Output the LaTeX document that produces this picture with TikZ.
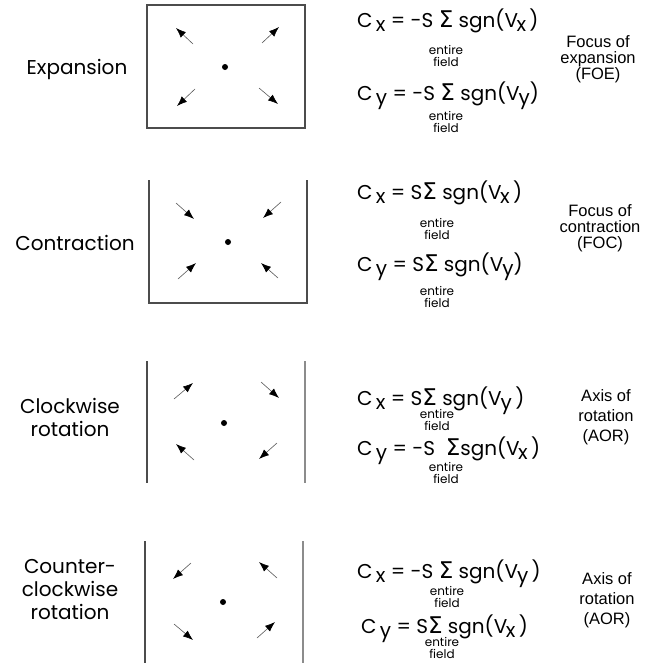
\documentclass[tikz,border=0pt]{standalone}
\usepackage{fontspec}
\setmainfont{Poppins}
\newfontfamily\arialf{Liberation Sans}
\newfontfamily\symf{DejaVu Sans}
\usetikzlibrary{arrows.meta}
\newcommand{\lsub}[1]{\raisebox{-4pt}{#1}}
\newcommand{\sig}{{\symf\fontsize{23}{23}\selectfont Σ}}
\begin{document}
\begin{tikzpicture}[x=1pt,y=-1pt,
  frame/.style={draw=black!70,line width=1.2pt},
  lightframe/.style={draw=black!45,line width=1.2pt},
  vec/.style={draw=black!65,line width=0.6pt,-{Latex[length=10pt,width=7.5pt,color=black]}},
  dotnode/.style={circle,fill=black,inner sep=0pt,minimum size=6pt},
  lbl/.style={font=\fontsize{20}{23}\selectfont,align=center,inner sep=0pt},
  eq/.style={font=\fontsize{20}{22}\selectfont,anchor=base west,inner sep=0pt},
  lim/.style={font=\fontsize{12}{12.5}\selectfont,align=center,inner sep=0pt},
  note/.style={font=\arialf\fontsize{16.5}{16}\selectfont,align=center,inner sep=0pt},
  noteb/.style={font=\arialf\fontsize{16.5}{20}\selectfont,align=center,inner sep=0pt}]
\useasboundingbox (0,0) rectangle (667,664);
% ---------- Panel 1: Expansion
\node[lbl] (t1) at (77,69) {Expansion};
\draw[frame] (147,5) rectangle (305,128);
\node[dotnode] (d1) at (225,67) {};
\coordinate (p1a) at (193,44); \coordinate (q1a) at (176,28);
\coordinate (p1b) at (262,43); \coordinate (q1b) at (279,27);
\coordinate (p1c) at (195,89); \coordinate (q1c) at (177,106);
\coordinate (p1d) at (259,88); \coordinate (q1d) at (278,104);
\draw[vec] (p1a) -- (q1a);
\draw[vec] (p1b) -- (q1b);
\draw[vec] (p1c) -- (q1c);
\draw[vec] (p1d) -- (q1d);
\node[eq] (f1a) at (357,27) {C\,\lsub{x} = -S \sig\ sgn(V\kern-1.5pt\lsub{x}\,)};
\node[lim] (l1a) at (446,56) {entire\\field};
\node[eq] (f1b) at (357,100) {C\,\lsub{y} = -S \sig\ sgn(V\kern-1pt\lsub{y})};
\node[lim] (l1b) at (446,122) {entire\\field};
\node[note] (n1) at (598,59) {Focus of\\expansion\\(FOE)};
% ---------- Panel 2: Contraction
\node[lbl] (t2) at (75,243) {Contraction};
\draw[frame] (149,180) -- (149,303) -- (307,303) -- (307,180);
\node[dotnode] (d2) at (228,242) {};
\coordinate (p2a) at (176,203); \coordinate (q2a) at (194,219);
\coordinate (p2b) at (281,202); \coordinate (q2b) at (263,218);
\coordinate (p2c) at (178,279); \coordinate (q2c) at (196,263);
\coordinate (p2d) at (278,278); \coordinate (q2d) at (261,263);
\draw[vec] (p2a) -- (q2a);
\draw[vec] (p2b) -- (q2b);
\draw[vec] (p2c) -- (q2c);
\draw[vec] (p2d) -- (q2d);
\node[eq] (f2a) at (357,199) {C\,\lsub{x} = S\sig\ sgn(V\kern-1.5pt\lsub{x}\,)};
\node[lim] (l2a) at (437,229) {entire\\field};
\node[eq] (f2b) at (357,271) {C\,\lsub{y} = S\sig\ sgn(V\kern-1pt\lsub{y})};
\node[lim] (l2b) at (437,297) {entire\\field};
\node[note] (n2) at (600,228) {Focus of\\contraction\\(FOC)};
% ---------- Panel 3: Clockwise rotation
\node[lbl] (t3) at (70,417) {Clockwise\\rotation};
\draw[frame] (147,361) -- (147,483);
\draw[lightframe] (305,361) -- (305,483);
\node[dotnode] (d3) at (224,423) {};
\coordinate (p3a) at (174,399); \coordinate (q3a) at (193,383);
\coordinate (p3b) at (261,382); \coordinate (q3b) at (279,398);
\coordinate (p3c) at (194,460); \coordinate (q3c) at (176,444);
\coordinate (p3d) at (277,443); \coordinate (q3d) at (259,459);
\draw[vec] (p3a) -- (q3a);
\draw[vec] (p3b) -- (q3b);
\draw[vec] (p3c) -- (q3c);
\draw[vec] (p3d) -- (q3d);
\node[eq] (f3a) at (357,405) {C\,\lsub{x} = S\sig\ sgn(V\kern-1pt\lsub{y}\,)};
\node[lim] (l3a) at (437,420) {entire\\field};
\node[eq] (f3b) at (357,455) {C\,\lsub{y} = -S \ \sig sgn(V\kern-1.5pt\lsub{x}\,)};
\node[lim] (l3b) at (446,473) {entire\\field};
\node[noteb] (n3) at (606,417) {Axis of\\rotation\\(AOR)};
% ---------- Panel 4: Counter-clockwise rotation
\node[lbl] (t4) at (70,590) {Counter-\\clockwise\\rotation};
\draw[frame] (145,541) -- (145,663);
\draw[lightframe] (303,541) -- (303,663);
\node[dotnode] (d4) at (223,602) {};
\coordinate (p4a) at (191,563); \coordinate (q4a) at (173,579);
\coordinate (p4b) at (277,578); \coordinate (q4b) at (259,562);
\coordinate (p4c) at (174,624); \coordinate (q4c) at (193,640);
\coordinate (p4d) at (257,638); \coordinate (q4d) at (275,622);
\draw[vec] (p4a) -- (q4a);
\draw[vec] (p4b) -- (q4b);
\draw[vec] (p4c) -- (q4c);
\draw[vec] (p4d) -- (q4d);
\node[eq] (f4a) at (357,578) {C\,\lsub{x} = -S \sig\ sgn(V\kern-1pt\lsub{y}\,)};
\node[lim] (l4a) at (447,597) {entire\\field};
\node[eq] (f4b) at (361,633) {C\,\lsub{y} = S\sig\ sgn(V\kern-1.5pt\lsub{x}\,)};
\node[lim] (l4b) at (442,648) {entire\\field};
\node[noteb] (n4) at (607,600) {Axis of\\rotation\\(AOR)};
\end{tikzpicture}
\end{document}
